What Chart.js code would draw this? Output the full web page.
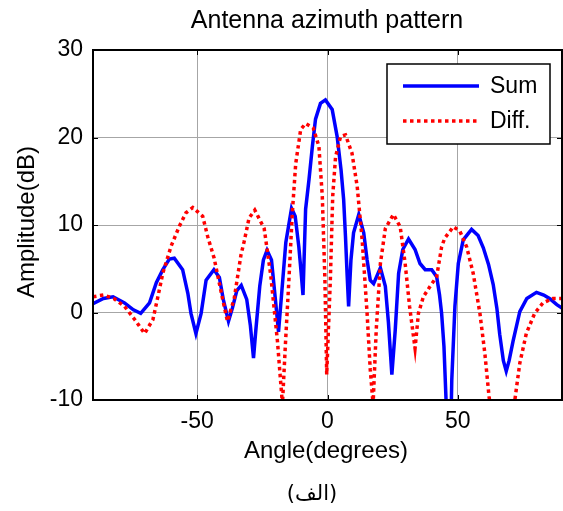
<!DOCTYPE html>
<html>
<head>
<meta charset="utf-8">
<script src="https://cdn.jsdelivr.net/npm/chart.js@4.4.1/dist/chart.umd.min.js"></script>
<style>
    body { margin: 0; background: #fff; }
    canvas { display: block; }
</style>
</head>
<body>
<canvas id="patternChart" width="563" height="511"></canvas>
<script>
// values (degrees, dB)
const sumAngles = [-90, -86, -82.3, -77.9, -74.5, -71.7, -68.3, -65.7, -63.2, -60.7, -58.8, -55.6, -53.6, -52.4, -50.5, -48.5, -46.6,
    -43.6, -41.5, -40, -38, -36.5, -34.8, -33.1, -31, -29.6, -28.4, -27.5, -26, -24.6, -23.2, -21.5, -20, -18.8, -17.5, -16,
    -13.8, -12.4, -11, -10.1, -9.4, -8.4, -7.1, -5.8, -4.6, -2.7, -0.8, 1.8, 3.7, 5.2, 6.2, 6.9, 7.5, 8.1, 9.0, 10.0, 12.0,
    13.9, 15.2, 16.4, 17.7, 20.3, 22.2, 23.4, 24.7, 26.0, 27.3, 28.9, 31.1, 33.6, 35.5, 37.5, 40.0, 41.9, 43.0, 43.8, 44.7,
    45.5, 46.5, 47.3, 47.7, 48.9, 50.2, 52.1, 55.3, 57.8, 59.8, 61.8, 63.6, 65.0, 66.1, 67.5, 68.6, 69.7, 71.2, 73.8, 76.5,
    80.2, 83.0, 85.2, 88.0, 90];
const sumValues = [1.0, 1.6, 1.8, 1.1, 0.3, -0.1, 1.1, 3.4, 4.9, 6.1, 6.2, 4.9, 2.2, -0.1, -2.4, -0.1, 3.7,
    4.9, 4.0, 1.5, -1.0, 0.5, 2.5, 3.1, 1.5, -1.5, -5.2, -2.0, 3.0, 6.0, 7.1, 6.0, 1.5, -2.2, 2.5, 8.0,
    11.9, 11.0, 7.5, 4.5, 2.0, 11.8, 15.2, 19.0, 22.1, 23.9, 24.3, 23.2, 20.1, 16.3, 12.9, 8.7, 4.5, 0.7, 6.0, 9.1, 11.2,
    9.1, 6.0, 3.7, 3.3, 5.1, 3.0, -1.2, -7.1, -2.0, 4.5, 7.2, 8.4, 7.2, 5.6, 4.9, 4.9, 4.1, 2.0, -0.1, -3.9,
    -10, -14, -14, -7.7, 0.7, 5.6, 8.3, 9.5, 8.8, 7.4, 5.5, 3.2, 0.5, -2.5, -5.5, -6.7, -5.5, -3.3, 0.1, 1.6,
    2.3, 2.0, 1.6, 0.9, 0.5];

const diffAngles = [-90, -86, -82, -77.9, -74, -70.2, -67, -65.1, -63.2, -60, -56.8, -54.3, -51.7, -47.9, -46, -43.5, -40.3,
    -38.4, -35.8, -33.2, -32, -30.1, -27.9, -24.3, -21.8, -19.2, -17.3, -16.2, -14.8, -13.5, -12.2, -10.3, -8.4, -5.5,
    -3.3, -2.0, -1.0, -0.3, 1.1, 2.0, 3.1, 5.0, 6.9, 9.4, 11.4, 13.3, 15.2, 16.4, 17.5, 18.7, 20.3, 22.2, 25.3, 27.9,
    29.8, 31.5, 33.6, 34.9, 36.8, 39.4, 41.9, 43.8, 45.0, 48.3, 50.8, 53.4, 55.9, 58.5, 60.4, 62.0, 64.0, 67.0, 70.0,
    71.9, 73.8, 76.3, 79.5, 82.7, 86.5, 90];
const diffValues = [1.8, 2.0, 1.6, 0.7, -0.8, -2.4, -0.8, 1.8, 4.5, 7.6, 9.9, 11.4, 12.0, 11.0, 8.7, 6.2, 1.6,
    -1.0, 1.6, 6.6, 8.1, 10.8, 11.7, 9.6, 4.3, -3.3, -10.5, -3.9, 3.8, 11.4, 17.0, 20.9, 21.6, 21.1,
    19.0, 13.3, 3.8, -7.1, 3.8, 13.3, 17.8, 20.1, 20.3, 18.2, 14.4, 8.3, -0.1, -6.5, -10.5, -2.0, 5.6, 9.6, 11.2, 9.8,
    5.6, 0.7, -4.1, -0.1, 1.8, 3.0, 4.1, 7.5, 8.5, 9.8, 9.3, 7.5, 4.5, -0.1, -4.7, -9.6, -14, -18, -14,
    -10, -5.8, -2.4, -0.1, 1.1, 1.6, 1.6];

const xTicks = [-50, 0, 50];
const yTicks = [-10, 0, 10, 20, 30];
const seriesNames = ['Sum', 'Diff.'];

const FONT = 'Arial, "Liberation Sans", sans-serif';

function toPoints(xs, ys) {
    return xs.map((x, i) => ({ x: x, y: ys[i] }));
}

// frame, inner ticks, titles and the legend box, drawn the MATLAB way
const matlabLook = {
    id: 'matlabLook',
    afterDatasetsDraw(chart) {
        const ctx = chart.ctx;
        const area = chart.chartArea;
        const xs = chart.scales.x;
        const ys = chart.scales.y;

        ctx.save();
        ctx.strokeStyle = '#000';
        ctx.lineWidth = 1;
        ctx.beginPath();
        xTicks.forEach(v => {
            const px = Math.round(xs.getPixelForValue(v)) + 0.5;
            ctx.moveTo(px, area.bottom); ctx.lineTo(px, area.bottom - 5);
            ctx.moveTo(px, area.top); ctx.lineTo(px, area.top + 5);
        });
        yTicks.forEach(v => {
            const py = Math.round(ys.getPixelForValue(v)) + 0.5;
            ctx.moveTo(area.left, py); ctx.lineTo(area.left + 5, py);
            ctx.moveTo(area.right, py); ctx.lineTo(area.right - 5, py);
        });
        ctx.stroke();

        ctx.lineWidth = 2;
        ctx.strokeRect(area.left, area.top, area.right - area.left, area.bottom - area.top);

        // legend box
        const lx = 387, ly = 64, lw = 163, lh = 80;
        ctx.fillStyle = '#fff';
        ctx.fillRect(lx, ly, lw, lh);
        ctx.lineWidth = 1.5;
        ctx.strokeRect(lx, ly, lw, lh);

        const rows = [86, 121];
        chart.data.datasets.forEach((ds, i) => {
            ctx.beginPath();
            ctx.strokeStyle = ds.borderColor;
            ctx.lineWidth = ds.borderWidth;
            ctx.setLineDash(ds.borderDash || []);
            ctx.moveTo(403, rows[i]);
            ctx.lineTo(479, rows[i]);
            ctx.stroke();
            ctx.setLineDash([]);
            ctx.fillStyle = '#000';
            ctx.font = '23px ' + FONT;
            ctx.textAlign = 'left';
            ctx.textBaseline = 'middle';
            ctx.fillText(seriesNames[i], 490, rows[i] + 1);
        });

        // titles
        ctx.fillStyle = '#000';
        ctx.textBaseline = 'alphabetic';
        ctx.textAlign = 'center';
        ctx.font = '25px ' + FONT;
        ctx.fillText('Antenna azimuth pattern', 327, 28);
        ctx.font = '24px ' + FONT;
        ctx.fillText('Angle(degrees)', 326, 458);

        ctx.save();
        ctx.translate(34, 222);
        ctx.rotate(-Math.PI / 2);
        ctx.fillText('Amplitude(dB)', 0, 0);
        ctx.restore();

        ctx.font = '21px "DejaVu Sans", "Noto Sans", sans-serif';
        ctx.direction = 'rtl';
        ctx.fillText('(الف)', 312, 500);
        ctx.restore();
    }
};

const ctx = document.getElementById('patternChart').getContext('2d');

const chart = new Chart(ctx, {
    type: 'line',
    data: {
        datasets: [
            {
                label: seriesNames[0],
                data: toPoints(sumAngles, sumValues),
                borderColor: '#0000ff',
                borderWidth: 3.5,
                pointRadius: 0,
                tension: 0,
                order: 1
            },
            {
                label: seriesNames[1],
                data: toPoints(diffAngles, diffValues),
                borderColor: '#ff0000',
                borderWidth: 3.5,
                borderDash: [3.5, 3.5],
                borderCapStyle: 'butt',
                pointRadius: 0,
                tension: 0,
                order: 0
            }
        ]
    },
    options: {
        responsive: false,
        animation: false,
        layout: { padding: { top: 50, right: 1, left: 0, bottom: 0 } },
        plugins: {
            legend: { display: false },
            tooltip: { enabled: false },
            title: { display: false }
        },
        scales: {
            x: {
                type: 'linear',
                min: -90,
                max: 90,
                afterBuildTicks: axis => { axis.ticks = xTicks.map(v => ({ value: v })); },
                afterFit: scale => { scale.height = 111; },
                border: { display: false },
                grid: { color: '#a6a6a6', lineWidth: 1, drawTicks: false },
                ticks: {
                    color: '#000',
                    font: { family: FONT, size: 23 },
                    padding: 8,
                    maxRotation: 0
                }
            },
            y: {
                type: 'linear',
                min: -10,
                max: 30,
                afterBuildTicks: axis => { axis.ticks = yTicks.map(v => ({ value: v })); },
                afterFit: scale => { scale.width = 93; },
                border: { display: false },
                grid: { color: '#a6a6a6', lineWidth: 1, drawTicks: false },
                ticks: {
                    color: '#000',
                    font: { family: FONT, size: 23 },
                    padding: 10
                }
            }
        }
    },
    plugins: [matlabLook]
});
console.log('chart drawn', chart.chartArea);
</script>
</body>
</html>
